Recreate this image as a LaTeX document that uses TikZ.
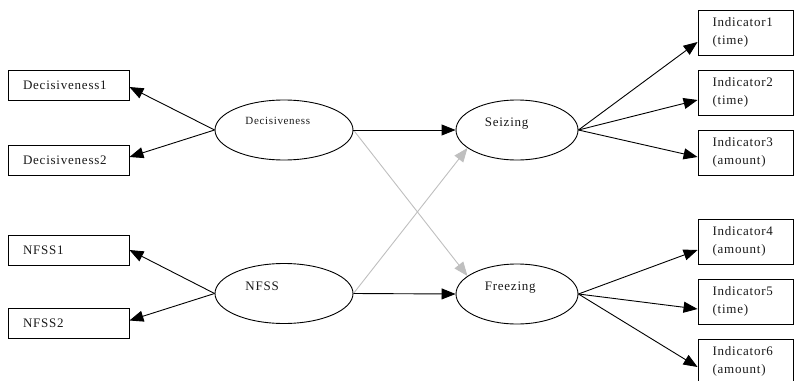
\documentclass[tikz,border=0pt]{standalone}
\usepackage{fontspec}
\setmainfont{Liberation Serif}[LetterSpace=6]
\usetikzlibrary{shapes.geometric,arrows.meta}

\begin{document}
\begin{tikzpicture}[x=1pt, y=-1pt, >={Triangle[length=14pt,width=11pt]},
    every node/.style={text=black!90, font=\fontsize{13}{18}\selectfont},
    obs/.style={draw, rectangle, line width=0.9pt, minimum height=30pt,
                text width=91pt, inner xsep=15pt, align=left},
    ind/.style={draw, rectangle, line width=0.9pt, minimum height=45pt,
                text width=66pt, inner xsep=14.5pt, inner ysep=2pt, align=left},
    latent/.style={draw, ellipse, line width=0.9pt, minimum width=#1,
                   minimum height=60pt, inner sep=0pt},
    lname/.style={anchor=base west, inner sep=0pt},
    loading/.style={->, line width=0.9pt},
    effect/.style={->, line width=0.9pt},
    crosseffect/.style={->, line width=0.9pt, draw=black!25}]
  \useasboundingbox (0,0) rectangle (794,380);

  % observed indicators, left
  \node[obs] (dec1) at (68.5,85) {Decisiveness1};
  \node[obs] (dec2) at (68.5,160) {Decisiveness2};
  \node[obs] (nfss1) at (68.5,250) {NFSS1};
  \node[obs] (nfss2) at (68.5,323.5) {NFSS2};

  % latent variables
  \node[latent=138pt] (dec) at (284,130) {};
  \node[latent=138pt] (nfss) at (284,293.5) {};
  \node[latent=122pt] (seiz) at (517,130) {};
  \node[latent=122pt] (frz) at (517,294) {};
  \node[lname, font=\fontsize{11}{13}\selectfont] (decT) at ([xshift=30.7pt,yshift=6pt]dec.west) {Decisiveness};
  \node[lname] (nfssT) at ([xshift=30.7pt,yshift=3.5pt]nfss.west) {NFSS};
  \node[lname] (seizT) at ([xshift=29pt,yshift=3.3pt]seiz.west) {Seizing};
  \node[lname] (frzT) at ([xshift=29pt,yshift=3.3pt]frz.west) {Freezing};

  % observed indicators, right
  \node[ind] (ind1) at (745.5,32.5) {Indicator1\\(time)};
  \node[ind] (ind2) at (745.5,92.5) {Indicator2\\(time)};
  \node[ind] (ind3) at (745.5,152.5) {Indicator3\\(amount)};
  \node[ind] (ind4) at (745.5,241.5) {Indicator4\\(amount)};
  \node[ind] (ind5) at (745.5,301.5) {Indicator5\\(time)};
  \node[ind] (ind6) at (745.5,361.5) {Indicator6\\(amount)};

  \foreach \s/\t/\dy in {dec/dec1/-2, dec/dec2/3, nfss/nfss1/0, nfss/nfss2/3} {
    \draw[loading] (\s.west) -- ([yshift=\dy pt]\t.east);
  }
  \foreach \s/\t/\dy in {seiz/ind1/-9.5, seiz/ind2/-7.5, seiz/ind3/-4.5,
                         frz/ind4/-8.5, frz/ind5/-7.5, frz/ind6/-5.5} {
    \draw[loading] (\s.east) -- ([yshift=\dy pt]\t.west);
  }

  \draw[crosseffect] (dec.east) -- (frz.160);
  \draw[crosseffect] (nfss.east) -- (seiz.200);
  \draw[effect] (dec.east) -- (seiz.west);
  \draw[effect] (nfss.east) -- (frz.west);
\end{tikzpicture}
\end{document}
